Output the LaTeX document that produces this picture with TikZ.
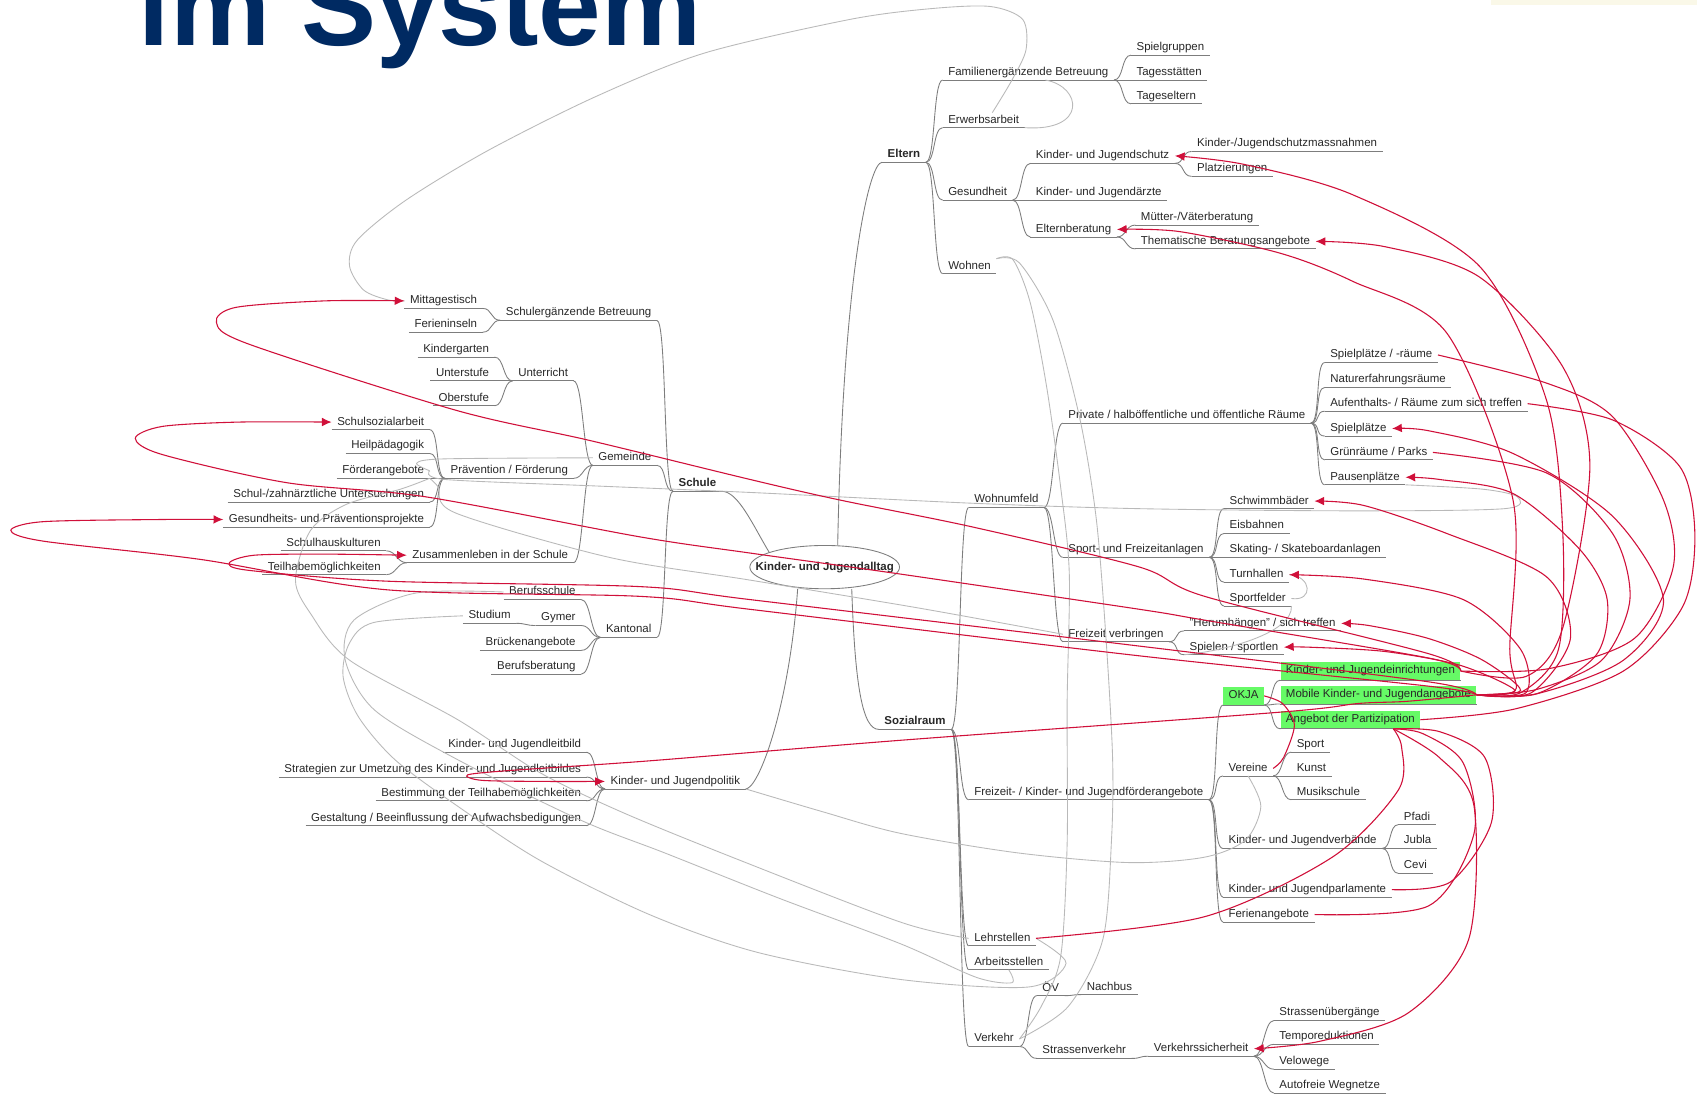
\documentclass[tikz,border=0pt]{standalone}
\usepackage{fontspec}
\setmainfont{Liberation Sans}
\usetikzlibrary{arrows.meta,calc,shapes.geometric}
\definecolor{navy}{RGB}{0,42,98}
\definecolor{lnk}{RGB}{208,16,58}
\definecolor{okgreen}{RGB}{102,250,102}
\definecolor{txt}{RGB}{40,40,40}
\definecolor{treec}{RGB}{125,125,125}
\definecolor{glc}{RGB}{185,185,185}
\definecolor{beige}{RGB}{250,248,232}
\newcommand\rcon[2]{\draw[treeline] (#1.south east) .. controls +(9,0) and +(-9,0) .. (#2.south west);}
\newcommand\lcon[2]{\draw[treeline] (#1.south west) .. controls +(-9,0) and +(9,0) .. (#2.south east);}
\begin{document}
\begin{tikzpicture}[x=1pt,y=-1pt,
  lbl/.style={inner xsep=5pt, inner ysep=1pt, text height=8.5pt, text depth=3pt, font=\fontsize{10.6}{12}\selectfont, text=txt},
  rn/.style={lbl, anchor=west},
  ln/.style={lbl, anchor=east},
  bnode/.style={font=\fontsize{10.6}{12}\selectfont\bfseries},
  gbox/.style={fill=okgreen, inner ysep=2.5pt},
  treeline/.style={draw=treec, line width=0.8pt},
  uline/.style={draw=treec, line width=0.8pt},
  glink/.style={draw=glc, line width=0.8pt},
  rlink/.style={draw=lnk, line width=1pt},
  rarr/.style={rlink, -{Latex[length=9pt,width=8pt]}},
]
\useasboundingbox (0,0) rectangle (1568,1012);
\fill[white] (0,0) rectangle (1568,1012);
\fill[beige] (1378,0) rectangle (1568,5);
\node[anchor=base west, inner sep=0pt, font=\fontsize{104}{104}\selectfont\bfseries, text=navy] (title) at (128,42) {im System};

% centre
\node[draw=treec, fill=white, ellipse, inner xsep=-15pt, inner ysep=0pt, minimum height=40pt, line width=0.8pt, font=\fontsize{10.6}{12}\selectfont\bfseries, text=txt] (kja) at (762,524) {Kinder- und Jugendalltag};

% Eltern
\node[rn,bnode] (eltern) at (815,143) {Eltern};
\node[rn] (famb) at (871,67) {Familienergänzende Betreuung};
\node[rn] (erwerb) at (871,111) {Erwerbsarbeit};
\node[rn] (gesund) at (871,178) {Gesundheit};
\node[rn] (wohnen) at (871,246) {Wohnen};
\node[rn] (spielg) at (1045,44) {Spielgruppen};
\node[rn] (tagesst) at (1045,67) {Tagesstätten};
\node[rn] (tagese) at (1045,89) {Tageseltern};
\node[rn] (kjschutz) at (952,144) {Kinder- und Jugendschutz};
\node[rn] (kjaerzte) at (952,178) {Kinder- und Jugendärzte};
\node[rn] (elternb) at (952,212) {Elternberatung};
\node[rn] (kjsm) at (1101,133) {Kinder-/Jugendschutzmassnahmen};
\node[rn] (platz) at (1101,156) {Platzierungen};
\node[rn] (muetter) at (1049,201) {Mütter-/Väterberatung};
\node[rn] (thema) at (1049,223) {Thematische Beratungsangebote};

% Sozialraum
\node[rn,bnode] (sozial) at (812,667) {Sozialraum};
\node[rn] (wohnumf) at (895,462) {Wohnumfeld};
\node[rn] (freizfoerd) at (895,732) {Freizeit- / Kinder- und Jugendförderangebote};
\node[rn] (lehr) at (895,867) {Lehrstellen};
\node[rn] (arbeit) at (895,889) {Arbeitsstellen};
\node[rn] (verkehr) at (895,960) {Verkehr};
\node[rn] (private) at (982,384) {Private / halböffentliche und öffentliche Räume};
\node[rn] (sportfa) at (982,508) {Sport- und Freizeitanlagen};
\node[rn] (freizv) at (982,586) {Freizeit verbringen};
\node[rn] (spr) at (1224,328) {Spielplätze / -räume};
\node[rn] (natur) at (1224,351) {Naturerfahrungsräume};
\node[rn] (auf) at (1224,373) {Aufenthalts- / Räume zum sich treffen};
\node[rn] (spp) at (1224,396) {Spielplätze};
\node[rn] (gru) at (1224,418) {Grünräume / Parks};
\node[rn] (pau) at (1224,441) {Pausenplätze};
\node[rn] (swb) at (1131,463) {Schwimmbäder};
\node[rn] (eis) at (1131,486) {Eisbahnen};
\node[rn] (skate) at (1131,508) {Skating- / Skateboardanlagen};
\node[rn] (tur) at (1131,531) {Turnhallen};
\node[rn] (sportf) at (1131,553) {Sportfelder};
\node[rn] (her) at (1094,576) {"Herumhängen" / sich treffen};
\node[rn] (sps) at (1094,598) {Spielen / sportlen};
\node[rn,gbox] (okja) at (1130,643) {OKJA};
\node[rn,gbox] (kje) at (1183,620) {Kinder- und Jugendeinrichtungen};
\node[rn,gbox] (mobile) at (1183,642) {Mobile Kinder- und Jugendangebote};
\node[rn,gbox] (angebot) at (1183,665) {Angebot der Partizipation};
\node[rn] (vereine) at (1130,710) {Vereine};
\node[rn] (verb) at (1130,777) {Kinder- und Jugendverbände};
\node[rn] (parl) at (1130,822) {Kinder- und Jugendparlamente};
\node[rn] (fer) at (1130,845) {Ferienangebote};
\node[rn] (sport) at (1193,688) {Sport};
\node[rn] (kunst) at (1193,710) {Kunst};
\node[rn] (musik) at (1193,732) {Musikschule};
\node[rn] (pfadi) at (1292,755) {Pfadi};
\node[rn] (jubla) at (1292,777) {Jubla};
\node[rn] (cevi) at (1292,800) {Cevi};
\node[rn] (oev) at (958,913) {ÖV};
\node[rn] (strv) at (958,971) {Strassenverkehr};
\node[rn] (nachbus) at (999,912) {Nachbus};
\node[rn] (vks) at (1061,969) {Verkehrssicherheit};
\node[rn] (sueb) at (1177,936) {Strassenübergänge};
\node[rn] (tempo) at (1177,958) {Temporeduktionen};
\node[rn] (velo) at (1177,981) {Velowege};
\node[rn] (autof) at (1177,1003) {Autofreie Wegnetze};

% Schule
\node[ln,bnode] (schule) at (667,447) {Schule};
\node[ln] (sergb) at (607,289) {Schulergänzende Betreuung};
\node[ln] (gemeinde) at (607,423) {Gemeinde};
\node[ln] (kantonal) at (607,582) {Kantonal};
\node[ln] (mittag) at (446,278) {Mittagestisch};
\node[ln] (ferien) at (446,300) {Ferieninseln};
\node[ln] (unterricht) at (530,345) {Unterricht};
\node[ln] (praev) at (530,435) {Prävention / Förderung};
\node[ln] (zus) at (530,513) {Zusammenleben in der Schule};
\node[ln] (kiga) at (457,323) {Kindergarten};
\node[ln] (unters) at (457,345) {Unterstufe};
\node[ln] (obers) at (457,368) {Oberstufe};
\node[ln] (sozarb) at (397,390) {Schulsozialarbeit};
\node[ln] (heil) at (397,412) {Heilpädagogik};
\node[ln] (foerder) at (397,435) {Förderangebote};
\node[ln] (schulzahn) at (397,457) {Schul-/zahnärztliche Untersuchungen};
\node[ln] (gesproj) at (397,480) {Gesundheits- und Präventionsprojekte};
\node[ln] (shk) at (357,502) {Schulhauskulturen};
\node[ln] (teilh) at (357,524) {Teilhabemöglichkeiten};
\node[ln] (berufss) at (537,547) {Berufsschule};
\node[ln] (gymer) at (537,571) {Gymer};
\node[ln] (brueck) at (537,594) {Brückenangebote};
\node[ln] (berufsb) at (537,616) {Berufsberatung};
\node[ln] (studium) at (477,569) {Studium};

% Politik
\node[ln] (politik) at (689,722) {Kinder- und Jugendpolitik};
\node[ln] (leitbild) at (542,688) {Kinder- und Jugendleitbild};
\node[ln] (strat) at (542,711) {Strategien zur Umetzung des Kinder- und Jugendleitbildes};
\node[ln] (bestimm) at (542,733) {Bestimmung der Teilhabemöglichkeiten};
\node[ln] (gestalt) at (542,756) {Gestaltung / Beeinflussung der Aufwachsbedigungen};

\coordinate (angsr) at ($(angebot.south east)+(-25,0)$);

% underlines
\foreach \n in {eltern,famb,erwerb,gesund,wohnen,spielg,tagesst,tagese,kjschutz,kjaerzte,elternb,kjsm,platz,muetter,thema,sozial,wohnumf,freizfoerd,lehr,arbeit,verkehr,private,sportfa,freizv,spr,natur,auf,spp,gru,pau,swb,eis,skate,tur,sportf,her,sps,okja,kje,mobile,angebot,vereine,verb,parl,fer,sport,kunst,musik,pfadi,jubla,cevi,oev,strv,nachbus,vks,sueb,tempo,velo,autof,schule,sergb,gemeinde,kantonal,mittag,ferien,unterricht,praev,zus,kiga,unters,obers,sozarb,heil,foerder,schulzahn,gesproj,shk,teilh,berufss,gymer,brueck,berufsb,studium,politik,leitbild,strat,bestimm,gestalt}
  {\draw[uline] (\n.south west) -- (\n.south east);}

% main branches
\draw[treeline] ($(kja.north)+(12,0)$) .. controls +(5,-250) and +(-12,0) .. (eltern.south west);
\draw[treeline] (kja.165) .. controls +(-15,-25) and +(15,0) .. (schule.south east);
\draw[treeline] ($(kja.south)+(25,0)$) .. controls +(3,90) and +(-15,0) .. (sozial.south west);
\draw[treeline] ($(kja.south)+(-25,0)$) .. controls +(-8,110) and +(12,0) .. (politik.south east);

% tree connectors (right)
\foreach \c in {famb,erwerb,gesund,wohnen} {\rcon{eltern}{\c}}
\foreach \c in {spielg,tagesst,tagese} {\rcon{famb}{\c}}
\foreach \c in {kjschutz,kjaerzte,elternb} {\rcon{gesund}{\c}}
\foreach \c in {kjsm,platz} {\rcon{kjschutz}{\c}}
\foreach \c in {muetter,thema} {\rcon{elternb}{\c}}
\foreach \c in {wohnumf,freizfoerd,lehr,arbeit,verkehr} {\rcon{sozial}{\c}}
\foreach \c in {private,sportfa,freizv} {\rcon{wohnumf}{\c}}
\foreach \c in {spr,natur,auf,spp,gru,pau} {\rcon{private}{\c}}
\foreach \c in {swb,eis,skate,tur,sportf} {\rcon{sportfa}{\c}}
\foreach \c in {her,sps} {\rcon{freizv}{\c}}
\foreach \c in {okja,vereine,verb,parl,fer} {\rcon{freizfoerd}{\c}}
\foreach \c in {kje,mobile,angebot} {\rcon{okja}{\c}}
\foreach \c in {sport,kunst,musik} {\rcon{vereine}{\c}}
\foreach \c in {pfadi,jubla,cevi} {\rcon{verb}{\c}}
\foreach \c in {oev,strv} {\rcon{verkehr}{\c}}
\rcon{oev}{nachbus}
\rcon{strv}{vks}
\foreach \c in {sueb,tempo,velo,autof} {\rcon{vks}{\c}}
% tree connectors (left)
\foreach \c in {sergb,gemeinde,kantonal} {\lcon{schule}{\c}}
\foreach \c in {mittag,ferien} {\lcon{sergb}{\c}}
\foreach \c in {unterricht,praev,zus} {\lcon{gemeinde}{\c}}
\foreach \c in {kiga,unters,obers} {\lcon{unterricht}{\c}}
\foreach \c in {sozarb,heil,foerder,schulzahn,gesproj} {\lcon{praev}{\c}}
\foreach \c in {shk,teilh} {\lcon{zus}{\c}}
\foreach \c in {berufss,gymer,brueck,berufsb} {\lcon{kantonal}{\c}}
\lcon{gymer}{studium}
\foreach \c in {leitbild,strat,bestimm,gestalt} {\lcon{politik}{\c}}

% grey cross links
\draw[glink] ($(famb.south west)+(95,0)$) .. controls (1000,80) and (1005,122) .. (erwerb.south east);
\draw[glink] plot[smooth] coordinates {($(erwerb.north)+(8,0)$) (935,74) (948,46) (945,18) (915,6) (860,8) (785,18) (651,49) (551,89) (451,139) (375,185) (330,222) (323,246) (336,268) (358,277) (mittag.west)};
\draw[glink] plot[smooth] coordinates {(wohnen.north east) (936,240) (952,280) (967,357) (980,450) (988,530) (986,650) (986,780) (980,884) (962,930) (verkehr.east)};
\draw[glink] plot[smooth] coordinates {(wohnen.north east) (942,243) (973,296) (998,388) (1013,480) (1022,591) (1028,700) (1027,776) (1019,868) (987,930) (verkehr.east)};
\draw[glink] plot[smooth] coordinates {(foerder.east) (411,443) (550,449) (693,455) (899,465) (1053,470) (1250,472) (1390,470) (1402,459) (1370,452) (pau.south east)};
\draw[glink] plot[smooth] coordinates {(foerder.east) (385,428) (410,424) (gemeinde.west)};
\draw[glink] plot[smooth] coordinates {(foerder.south east) (405,450) (421,474) (563,515) (693,536) (850,562) (freizv.west)};
\draw[glink] plot[smooth] coordinates {(foerder.south east) (370,452) (320,466) (287,490) (273,536) (287,567) (323,610) (423,665) (499,714) (576,751) (684,795) (832,852) (lehr.west)};
\draw[glink] plot[smooth] coordinates {(politik.south east) (760,750) (832,770) (940,788) (1043,797) (1113,792) (1151,776) (1165,745) (vereine.south)};
\draw[glink] plot[smooth] coordinates {(berufss.west) (384,548) (327,573) (319,610) (346,656) (423,702) (537,758) (614,788) (720,830) (832,872) (902,903) (935,908) (arbeit.south)};
\draw[glink] plot[smooth] coordinates {(studium.west) (346,575) (323,594) (317,625) (331,662) (365,702) (423,745) (499,795) (600,845) (700,880) (832,905) (950,912) (985,890) (lehr.east)};
\draw[glink] (tur.east) .. controls (1212,532) and (1214,556) .. (sportf.east);
\draw[glink] (sportf.south east) .. controls (1195,585) and (1130,602) .. (sps.south west);

% red links to the left
\draw[rarr] plot[smooth] coordinates {(kje.east) (1320,604) (1113,551) (1053,524) (899,487) (776,462) (693,443) (545,407) (421,379) (230,318) (200,298) (218,284) (300,278) (mittag.west)};
\draw[rarr] plot[smooth] coordinates {(kje.east) (1320,608) (1113,573) (1053,563) (829,530) (693,511) (591,496) (393,459) (265,446) (150,420) (125,405) (150,394) (220,390) (sozarb.west)};
\draw[rarr] plot[smooth] coordinates {(mobile.east) (1320,630) (1053,597) (693,554) (591,542) (358,537) (230,527) (212,520) (235,513) (300,512) (zus.west)};
\draw[rarr] plot[smooth] coordinates {(mobile.east) (1320,634) (1053,606) (693,563) (591,551) (358,545) (186,517) (40,500) (10,490) (40,482) (150,480) (gesproj.west)};
\draw[rarr] plot[smooth] coordinates {(mobile.east) (1300,648) (1255,650) (1183,658) (832,684) (600,703) (470,712) (432,716) (445,721) (500,722) (politik.west)};

% red links to the right / top
\draw[rarr] plot[smooth] coordinates {(mobile.east) (1405,640) (1440,600) (1444,493) (1429,370) (1367,246) (1250,180) (1150,152) (kjschutz.east)};
\draw[rarr] plot[smooth] coordinates {(mobile.east) (1400,638) (1395,600) (1398,462) (1337,308) (1250,260) (1183,234) (1090,214) (elternb.east)};
\draw[rarr] plot[smooth] coordinates {(kje.east) (1410,625) (1444,580) (1469,431) (1444,339) (1367,256) (1280,228) (thema.east)};
\draw[rarr] plot[smooth] coordinates {(mobile.east) (1420,641) (1500,610) (1537,554) (1490,477) (1398,419) (1320,398) (spp.east)};
\draw[rarr] plot[smooth] coordinates {(mobile.east) (1420,641) (1475,605) (1485,554) (1460,508) (1398,456) (1330,443) (pau.east)};
\draw[rarr] plot[smooth] coordinates {(mobile.east) (1415,640) (1451,590) (1429,533) (1337,493) (1260,467) (swb.east)};
\draw[rarr] plot[smooth] coordinates {(mobile.east) (1410,640) (1405,600) (1352,554) (1260,535) (tur.east)};
\draw[rarr] plot[smooth] coordinates {(mobile.east) (1405,638) (1370,610) (1320,590) (1265,578) (her.east)};
\draw[rarr] plot[smooth] coordinates {(mobile.east) (1400,638) (1350,615) (1280,602) (1210,598) (sps.east)};
\draw[rlink] plot[smooth] coordinates {(spr.east) (1429,354) (1490,385) (1537,462) (1546,524) (1510,590) (1430,618) (kje.east)};
\draw[rlink] plot[smooth] coordinates {(auf.east) (1490,388) (1552,431) (1566,493) (1555,560) (1500,620) (1400,655) (angebot.east)};
\draw[rlink] plot[smooth] coordinates {(gru.east) (1429,437) (1490,493) (1506,554) (1480,610) (1420,637) (mobile.east)};

% red links below
\draw[rlink] plot[smooth] coordinates {(lehr.east) (1113,847) (1231,792) (1292,730) (1295,690) (angsr)};
\draw[rlink] plot[smooth] coordinates {(parl.east) (1340,815) (1378,760) (1372,700) (1330,676) (angsr)};
\draw[rlink] plot[smooth] coordinates {(fer.east) (1320,837) (1362,770) (1352,705) (1315,678) (angsr)};
\draw[rarr] plot[smooth] coordinates {(angsr) (1330,700) (1362,745) (1357,868) (1301,936) (1220,962) (vks.east)};
\draw[rlink] plot[smooth] coordinates {(vereine.east) (1186,700) (1196,670) (1185,650) (okja.east)};
\end{tikzpicture}
\end{document}
